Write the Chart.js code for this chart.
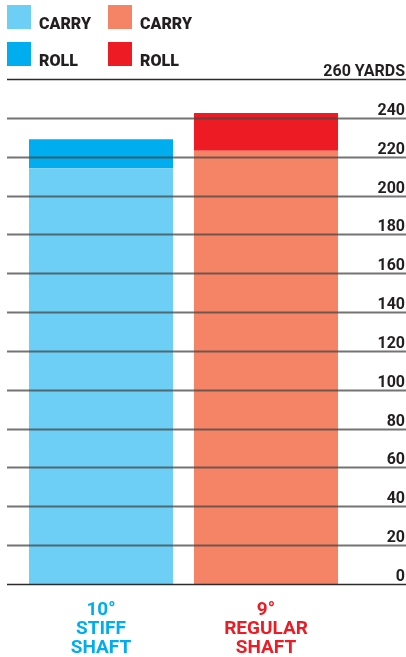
<!DOCTYPE html>
<html>
<head>
<meta charset="utf-8">
<script src="https://cdn.jsdelivr.net/npm/chart.js@4/dist/chart.umd.min.js"></script>
<style>
  html, body { margin: 0; padding: 0; background: #fff; }
  #wrap { position: relative; width: 406px; height: 657px; }
  .key { position: absolute; font: bold 16px Roboto, sans-serif; color: #231f20; }
  .key span { position: absolute; width: 24px; height: 24px; left: 0; top: 0; }
  .key b { position: absolute; left: 32px; top: 9px; white-space: nowrap; }
</style>
</head>
<body>
<div id="wrap">
  <canvas id="chart" width="406" height="657"></canvas>
  <div class="key" style="left:7px;top:5px"><span style="background:#6dcff6"></span><b>CARRY</b></div>
  <div class="key" style="left:7px;top:42px"><span style="background:#00aeef"></span><b>ROLL</b></div>
  <div class="key" style="left:108px;top:5px"><span style="background:#f58466"></span><b>CARRY</b></div>
  <div class="key" style="left:108px;top:42px"><span style="background:#ed1c24"></span><b>ROLL</b></div>
</div>
<script>
const categories = [['10°', 'STIFF', 'SHAFT'], ['9°', 'REGULAR', 'SHAFT']]
const carry = [214, 223]
const roll = [15, 19.5]
const carryColors = ['#6dcff6', '#f58466']
const rollColors = ['#00aeef', '#ed1c24']
const labelColors = ['#00aeef', '#ed1c24']

// y gridlines across the full width plus labels sitting on them, drawn over the bars
const gridLines = {
  id: 'gridLines',
  afterDatasetsDraw(chart) {
    const { ctx } = chart
    const y = chart.scales.y
    ctx.save()
    ctx.font = 'bold 16px Roboto, sans-serif'
    ctx.textAlign = 'right'
    ctx.textBaseline = 'alphabetic'
    ctx.fillStyle = '#231f20'
    y.ticks.forEach((t) => {
      const py = Math.round(y.getPixelForValue(t.value)) + 0.5
      const edge = t.value === 0 || t.value === 260
      ctx.strokeStyle = edge ? '#2b2b2b' : 'rgba(70,70,70,0.75)'
      ctx.lineWidth = edge ? 1.5 : 2
      ctx.beginPath()
      ctx.moveTo(7, py)
      ctx.lineTo(chart.width, py)
      ctx.stroke()
      ctx.fillText(t.label, 405, py - 4)
    })
    ctx.restore()
  },
}

const ctx = document.getElementById('chart').getContext('2d')
new Chart(ctx, {
  type: 'bar',
  data: {
    labels: categories,
    datasets: [
      { label: 'Carry', data: carry, backgroundColor: carryColors },
      { label: 'Roll', data: roll, backgroundColor: rollColors },
    ],
  },
  options: {
    responsive: false,
    animation: false,
    layout: { padding: { top: 79, left: 18.5, right: 0, bottom: 0 } },
    categoryPercentage: 1,
    barPercentage: 0.873,
    plugins: { legend: { display: false }, tooltip: { enabled: false } },
    scales: {
      x: {
        stacked: true,
        grid: { display: false, drawTicks: false },
        border: { display: false },
        afterFit: (s) => { s.height = 73 },
        ticks: {
          padding: 17,
          maxRotation: 0,
          autoSkip: false,
          font: { family: 'Roboto', weight: 'bold', size: 19, lineHeight: 1.0 },
          color: (c) => labelColors[c.index],
        },
      },
      y: {
        stacked: true,
        position: 'right',
        min: 0,
        max: 260,
        grid: { display: false, drawTicks: false },
        border: { display: false },
        afterFit: (s) => { s.width = 57.5 },
        ticks: {
          stepSize: 20,
          display: false,
          callback: (v) => (v === 260 ? '260 YARDS' : v),
        },
      },
    },
  },
  plugins: [gridLines],
})
</script>
</body>
</html>
